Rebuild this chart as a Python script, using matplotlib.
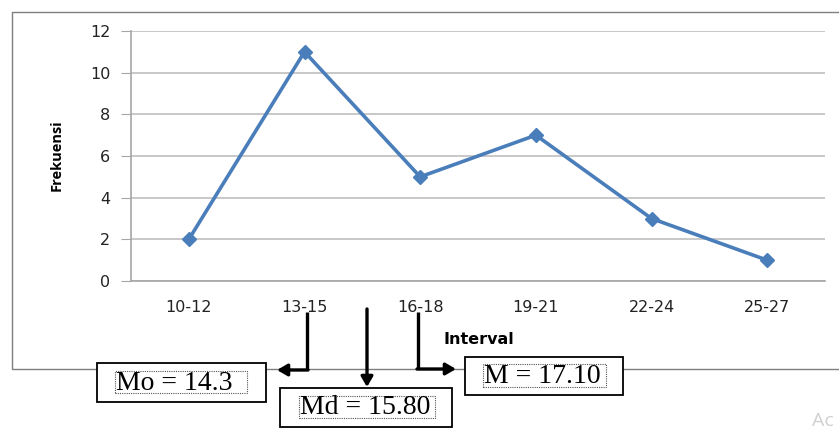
import matplotlib
matplotlib.use("Agg")
import matplotlib.pyplot as plt
from matplotlib.patches import Rectangle, FancyArrowPatch
from matplotlib.lines import Line2D

categories = ["10-12", "13-15", "16-18", "19-21", "22-24", "25-27"]
frekuensi = [2, 11, 5, 7, 3, 1]
y_ticks = [0, 2, 4, 6, 8, 10, 12]
box_labels = ["Mo = 14.3", "Md = 15.80", "M = 17.10"]

W, H = 839, 430
fig = plt.figure(figsize=(W / 100, H / 100), dpi=100)

def fx(x):
    return x / W

def fy(y):
    return 1 - y / H

# outer chart frame
fig.add_artist(Rectangle((fx(12), fy(369)), fx(900 - 12), fy(12) - fy(369),
                         transform=fig.transFigure, fill=False,
                         edgecolor="#7f7f7f", linewidth=1.0))

ax = fig.add_axes([fx(131), fy(281), fx(825 - 131), fy(31) - fy(281)])
x = list(range(len(categories)))
ax.plot(x, frekuensi, color="#4a7ebb", linewidth=2.6, marker="D",
        markersize=7, markerfacecolor="#4a7ebb", markeredgecolor="#4a7ebb",
        zorder=3)
ax.set_xlim(-0.5, len(categories) - 0.5)
ax.set_ylim(0, 12)
ax.set_yticks(y_ticks)
ax.set_xticks(x)
ax.set_xticklabels(categories, fontsize=11.5, family="DejaVu Sans", color="#222222")
ax.set_yticklabels([str(v) for v in y_ticks], fontsize=11.5, family="DejaVu Sans",
                   color="#222222")
ax.grid(axis="y", color="#bfbfbf", linewidth=1.2)
ax.set_axisbelow(True)
for s in ["top", "right"]:
    ax.spines[s].set_visible(False)
ax.spines["left"].set_color("#a6a6a6")
ax.spines["bottom"].set_color("#a6a6a6")
ax.spines["left"].set_linewidth(1.2)
ax.spines["bottom"].set_linewidth(1.2)
ax.tick_params(axis="y", length=7, color="#a6a6a6", pad=8)
ax.tick_params(axis="x", length=0, pad=14)

fig.text(fx(57), fy(155), "Frekuensi", rotation=90, ha="center", va="center",
         fontsize=10.5, fontweight="bold", family="Open Sans")
fig.text(fx(479), fy(340), "Interval", ha="center", va="center",
         fontsize=11.5, fontweight="bold", family="DejaVu Sans")

# boxes
boxes = [
    ((97, 363, 266, 402), (115, 371, 247, 393)),
    ((280, 388, 452, 427), (299, 396, 435, 418)),
    ((465, 357, 623, 395), (483, 364, 606, 387)),
]
for label, (outer, inner) in zip(box_labels, boxes):
    x0, y0, x1, y1 = outer
    fig.add_artist(Rectangle((fx(x0), fy(y1)), fx(x1 - x0), fy(y0) - fy(y1),
                             transform=fig.transFigure, facecolor="white",
                             edgecolor="black", linewidth=1.3, zorder=4))
    a0, b0, a1, b1 = inner
    fig.add_artist(Rectangle((fx(a0), fy(b1)), fx(a1 - a0), fy(b0) - fy(b1),
                             transform=fig.transFigure, fill=False,
                             edgecolor="#555555", linewidth=0.8,
                             linestyle=(0, (1, 1)), zorder=5))
    fig.text(fx(a0 + 1), fy((b0 + b1) / 2 + 1), label, ha="left",
             va="center", fontsize=20, family="Liberation Serif", zorder=6)

# arrows
def seg(xs, ys):
    fig.add_artist(Line2D([fx(v) for v in xs], [fy(v) for v in ys],
                          transform=fig.transFigure, color="black",
                          linewidth=2.4, solid_capstyle="butt", zorder=5))

def head(xa, ya, xb, yb):
    fig.add_artist(FancyArrowPatch((fx(xa), fy(ya)), (fx(xb), fy(yb)),
                                   transform=fig.transFigure,
                                   arrowstyle="-|>,head_length=6,head_width=3.5",
                                   color="black", linewidth=2.4,
                                   shrinkA=0, shrinkB=0, zorder=5))

seg([307, 307], [312, 370])
head(308, 370, 277, 370)
head(367, 309, 367, 387)
seg([418, 418], [312, 369])
head(417, 369, 456, 369)

# faint watermark
fig.text(fx(834), fy(421), "Ac", fontsize=14, color="#d0d0d0",
         ha="right", va="center", family="Open Sans")

fig.savefig("out.png", dpi=100, facecolor="white")
